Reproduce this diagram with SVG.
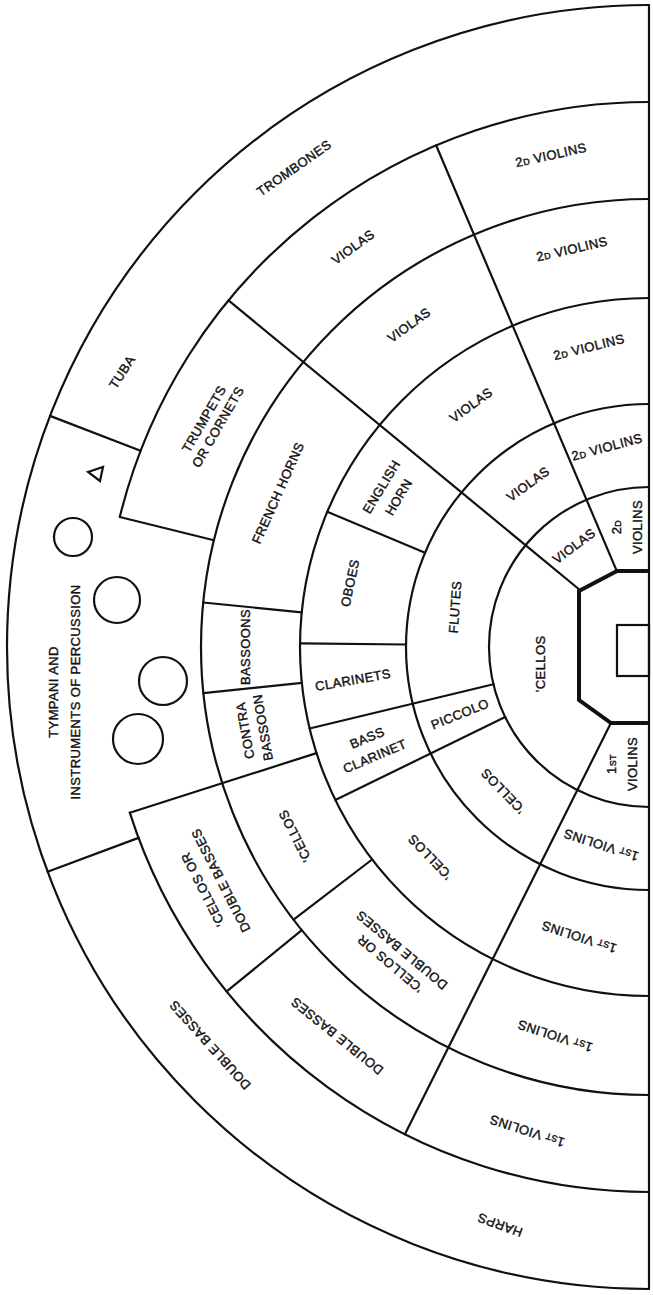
<svg xmlns="http://www.w3.org/2000/svg" width="653" height="1295" viewBox="0 0 653 1295">
<style>
.ln{fill:none;stroke:#111;stroke-width:2.2;stroke-linecap:round;stroke-linejoin:round}
.thk{fill:none;stroke:#111;stroke-width:4;stroke-linejoin:miter}
.sym{fill:none;stroke:#111;stroke-width:2.2}
text{font-family:"Liberation Sans",Arial,sans-serif;font-size:13px;fill:#111;stroke:#111;stroke-width:0.4;letter-spacing:0.4px;text-anchor:middle}
.sm{font-size:9px}
</style>
<rect width="653" height="1295" fill="#fff"/>
<g id="plan">
<path class="ln" d="M649,5 A642,642 0 0 0 7,647 A642,642 0 0 0 649,1289
M649,102 A545,545 0 0 0 119.8,517.0 M129.8,812.7 A545,545 0 0 0 649,1192
M649,199 A448,448 0 0 0 201,647 A448,448 0 0 0 649,1095
M649,298 A349,349 0 0 0 300,647 A349,349 0 0 0 649,996
M649,404 A243,243 0 0 0 406,647 A243,243 0 0 0 649,890
M649,487 A160,160 0 0 0 489,647 A160,160 0 0 0 649,807"/>
<path class="ln" d="M616.6,570.6 L436.1,145.3
M579.9,590 L228.5,300.3
M425.0,552.8 L327.3,511.8
M140.5,450.8 L50.0,415.9
M213.9,540.2 L119.8,517.0
M301.7,612.3 L203.2,602.5
M406.0,644.5 L300.0,643.3
M301.9,682.9 L203.4,693.1
M493.4,684.3 L309.6,728.5
M316.5,753.1 L129.8,812.7
M138.5,837.9 L47.6,871.8
M505.2,717.1 L335.3,800.0
M372.1,859.5 L293.6,919.7
M301.8,930.1 L226.7,991.4
M611.4,722.1 L404.9,1134.3"/>
<path class="ln" d="M649,5 L649,1289"/>
<path class="thk" d="M649,571 L617,571 L579,591 L579,700 L611,723 L649,723"/>
<rect class="sym" x="617" y="625" width="32" height="51"/>
<circle class="sym" cx="73" cy="537" r="19"/>
<circle class="sym" cx="117" cy="600" r="23"/>
<circle class="sym" cx="163" cy="681" r="24"/>
<circle class="sym" cx="138" cy="739" r="25"/>
<path class="sym" d="M88,472 L103,467 L100,481 Z"/>
</g>
<g id="labels">
<text id="trombones" transform="translate(294,168) rotate(-35)" y="4.5">TROMBONES</text>
<text id="tuba" transform="translate(122,372) rotate(-57)" y="4.5">TUBA</text>
<text id="tympani" transform="translate(64,692) rotate(-90)"><tspan x="0" y="-6.5">TYMPANI  AND</tspan><tspan x="0" y="15.5">INSTRUMENTS OF PERCUSSION</tspan></text>
<text id="trumpets" transform="translate(211,423) rotate(-60)"><tspan x="0" y="-3.5">TRUMPETS</tspan><tspan x="0" y="12.5">OR CORNETS</tspan></text>
<text id="frenchhorns" transform="translate(278,493) rotate(-66)" y="4.5">FRENCH HORNS</text>
<text id="englishhorn" transform="translate(390,492) rotate(-59)"><tspan x="0" y="-5.5">ENGLISH</tspan><tspan x="0" y="14.5">HORN</tspan></text>
<text id="oboes" transform="translate(350,583) rotate(-78)" y="4.5">OBOES</text>
<text id="flutes" transform="translate(455,607) rotate(-86)" y="4.5">FLUTES</text>
<text id="bassoons" transform="translate(245,647) rotate(-90)" y="4.5">BASSOONS</text>
<text id="contrabassoon" transform="translate(254,729) rotate(-100)"><tspan x="0" y="-4.5">CONTRA</tspan><tspan x="0" y="13.5">BASSOON</tspan></text>
<text id="clarinets" transform="translate(353,680) rotate(-10)" y="4.5">CLARINETS</text>
<text id="bassclarinet" transform="translate(371,747) rotate(-23)"><tspan x="0" y="-5.5">BASS</tspan><tspan x="0" y="14.5">CLARINET</tspan></text>
<text id="piccolo" transform="translate(460,714) rotate(-22)" y="4.5">PICCOLO</text>
<text id="cellosA" transform="translate(540,664) rotate(-90)" y="4.5">’CELLOS</text>
<text id="cellosB" transform="translate(503,791) rotate(-134)" y="4.5">’CELLOS</text>
<text id="cellosC" transform="translate(430,857) rotate(-134)" y="4.5">’CELLOS</text>
<text id="cellosD" transform="translate(295,836) rotate(-117)" y="4.5">’CELLOS</text>
<text id="cellosorbassesE" transform="translate(212,885) rotate(-117)"><tspan x="0" y="-5.5">’CELLOS OR</tspan><tspan x="0" y="14.5">DOUBLE BASSES</tspan></text>
<text id="cellosorbassesD" transform="translate(396,957) rotate(-140)"><tspan x="0" y="-4.5">’CELLOS OR</tspan><tspan x="0" y="13.5">DOUBLE BASSES</tspan></text>
<text id="doublebassesE" transform="translate(337,1036) rotate(-141)" y="4.5">DOUBLE BASSES</text>
<text id="doublebassesF" transform="translate(210,1045) rotate(-132)" y="4.5">DOUBLE BASSES</text>
<text id="harps" transform="translate(500,1225) rotate(-160)" y="4.5">HARPS</text>
<text id="violin1B" transform="translate(601,845) rotate(-162)" y="4.5">1<tspan class="sm">ST</tspan> VIOLINS</text>
<text id="violin1C" transform="translate(579,937) rotate(-162)" y="4.5">1<tspan class="sm">ST</tspan> VIOLINS</text>
<text id="violin1D" transform="translate(555,1036) rotate(-162)" y="4.5">1<tspan class="sm">ST</tspan> VIOLINS</text>
<text id="violin1E" transform="translate(527,1131) rotate(-162)" y="4.5">1<tspan class="sm">ST</tspan> VIOLINS</text>
<text id="violin1A" transform="translate(622,764) rotate(-90)"><tspan x="0" y="-6">1<tspan class="sm">ST</tspan></tspan><tspan x="0" y="15">VIOLINS</tspan></text>
<text id="violasE" transform="translate(353,247) rotate(-36)" y="4.5">VIOLAS</text>
<text id="violasD" transform="translate(409,325) rotate(-36)" y="4.5">VIOLAS</text>
<text id="violasC" transform="translate(471,405) rotate(-36)" y="4.5">VIOLAS</text>
<text id="violasB" transform="translate(528,484) rotate(-36)" y="4.5">VIOLAS</text>
<text id="violasA" transform="translate(574,546) rotate(-37)" y="4.5">VIOLAS</text>
<text id="violin2E" transform="translate(551,155) rotate(-12.5)" y="4.5">2<tspan class="sm">D</tspan> VIOLINS</text>
<text id="violin2D" transform="translate(572,249) rotate(-13)" y="4.5">2<tspan class="sm">D</tspan> VIOLINS</text>
<text id="violin2C" transform="translate(589,347) rotate(-14)" y="4.5">2<tspan class="sm">D</tspan> VIOLINS</text>
<text id="violin2B" transform="translate(607,447) rotate(-15)" y="4.5">2<tspan class="sm">D</tspan> VIOLINS</text>
<text id="violin2A" transform="translate(627,527) rotate(-90)"><tspan x="0" y="-6">2<tspan class="sm">D</tspan></tspan><tspan x="0" y="15">VIOLINS</tspan></text>
</g>
</svg>
